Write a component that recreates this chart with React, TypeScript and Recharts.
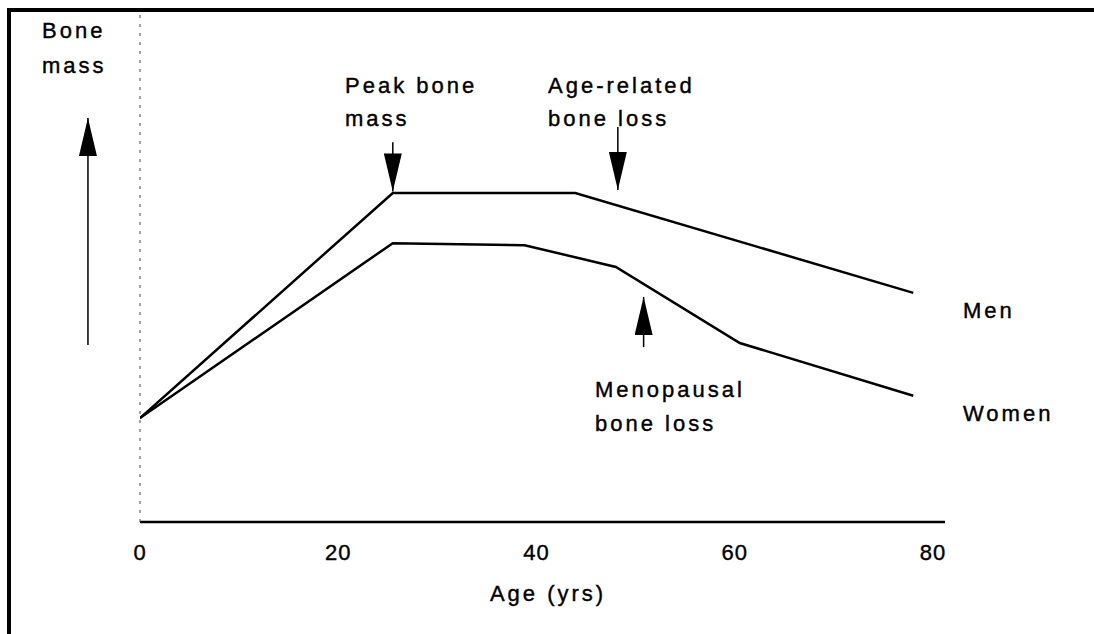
import React from 'react';
import { LineChart, Line, XAxis, YAxis, ReferenceLine } from 'recharts';

// ages (yrs) and relative bone mass
const menAge = [0, 25.5, 43.9, 78];
const menMass = [20.5, 64.9, 64.9, 45.2];
const womenAge = [0, 25.5, 38.8, 48, 60.5, 78];
const womenMass = [20.5, 55, 54.6, 50.3, 35.3, 24.9];
const ageTicks = [0, 20, 40, 60, 80];

// annotation arrows: [age, from mass, to mass]
const peakArrow = [25.5, 74.9, 65.2];
const ageLossArrow = [48.2, 77.9, 65.5];
const menoArrow = [50.8, 34.5, 44.4];
const yArrow = [-5.25, 34.9, 79.7];

const men = menAge.map((a, i) => ({ age: a, mass: menMass[i] }));
const women = womenAge.map((a, i) => ({ age: a, mass: womenMass[i] }));

const font = 'Arial, "Liberation Sans", Helvetica, sans-serif';
const txt = {
  fontFamily: font, fontSize: 22, fill: '#000', letterSpacing: 3,
  stroke: '#000', strokeWidth: 0.4,
};

const arrow = (a: number[], key: string) => (
  <ReferenceLine
    key={key}
    segment={[{ x: a[0], y: a[1] }, { x: a[0], y: a[2] }]}
    stroke="#000"
    strokeWidth={1.5}
    ifOverflow="visible"
    markerEnd="url(#head)"
  />
);

export default function App() {
  return (
    <div style={{ position: 'absolute', left: 0, top: 0, width: 1094, height: 634, overflow: 'hidden', background: '#fff' }}>
      <div
        style={{
          position: 'absolute', left: 7, top: 8, width: 1087, height: 626,
          borderTop: '4px solid #000', borderLeft: '4px solid #000', boxSizing: 'border-box',
        }}
      />
      <div style={{ position: 'absolute', left: 0, top: 0 }}>
        <LineChart width={1094} height={634} margin={{ top: 15, right: 149, bottom: 52, left: 139 }}>
          <defs>
            <marker id="head" viewBox="0 0 38 18" refX="38" refY="9" markerWidth="38" markerHeight="18"
              markerUnits="userSpaceOnUse" orient="auto">
              <path d="M0,0 L38,9 L0,18 z" fill="#000" />
            </marker>
          </defs>
          <XAxis
            type="number"
            dataKey="age"
            domain={[0, 81.2]}
            ticks={ageTicks}
            allowDataOverflow
            height={60}
            tickLine={false}
            tickSize={0}
            tickMargin={22}
            axisLine={{ stroke: '#000', strokeWidth: 2.5 }}
            tick={{ ...txt, letterSpacing: 1 }}
          />
          <YAxis
            type="number"
            domain={[0, 100]}
            width={1}
            tick={false}
            tickLine={false}
            axisLine={{ stroke: '#444', strokeWidth: 1, strokeDasharray: '3 6' }}
          />
          <Line data={men} dataKey="mass" type="linear" stroke="#000" strokeWidth={2.5} dot={false} isAnimationActive={false} />
          <Line data={women} dataKey="mass" type="linear" stroke="#000" strokeWidth={2.5} dot={false} isAnimationActive={false} />
          {arrow(peakArrow, 'peak')}
          {arrow(ageLossArrow, 'loss')}
          {arrow(menoArrow, 'meno')}
          {arrow(yArrow, 'y')}
          <text x={42} y={38} {...txt}>Bone</text>
          <text x={42} y={73} {...txt}>mass</text>
          <text x={345} y={93} {...txt}>Peak bone</text>
          <text x={345} y={126} {...txt}>mass</text>
          <text x={548} y={93} {...txt}>Age-related</text>
          <text x={548} y={126} {...txt}>bone loss</text>
          <text x={595} y={397} {...txt}>Menopausal</text>
          <text x={595} y={431} {...txt}>bone loss</text>
          <text x={963} y={318} {...txt}>Men</text>
          <text x={963} y={421} {...txt}>Women</text>
          <text x={548} y={601} textAnchor="middle" {...txt}>Age (yrs)</text>
        </LineChart>
      </div>
    </div>
  );
}
